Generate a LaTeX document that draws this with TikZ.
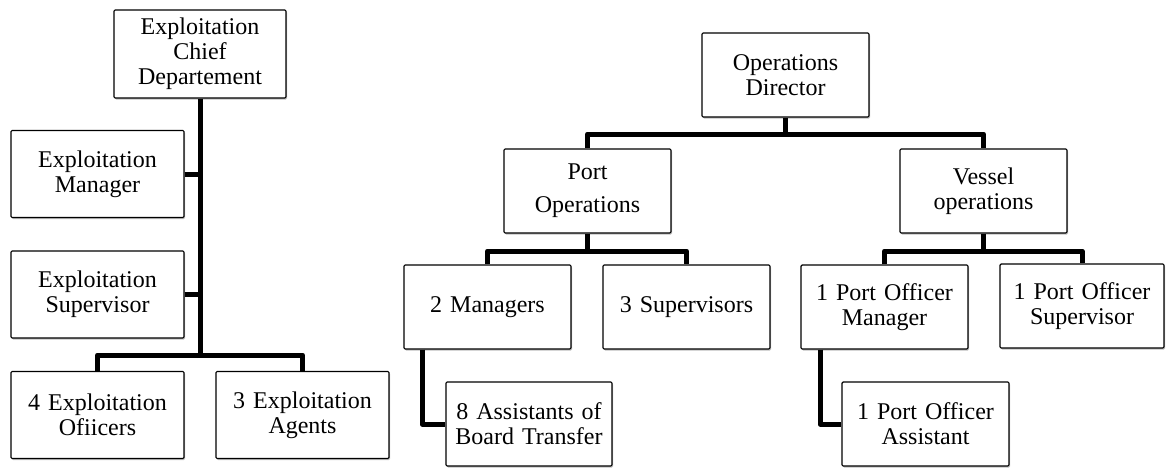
\documentclass[tikz,border=0pt]{standalone}
\usepackage{fontspec}
\setmainfont{Liberation Serif}
\usetikzlibrary{shadows}
\begin{document}
\begin{tikzpicture}[x=1pt,y=-1pt,
  box/.style={draw=black, line width=1.1pt, fill=white, rounded corners=1.2pt,
    align=center, inner sep=0pt, text width=#1,
    font=\fontsize{24}{25}\selectfont,
    drop shadow={shadow xshift=1pt, shadow yshift=-1.5pt, opacity=0.25, fill=black}},
  wbox/.style={box=170pt, minimum width=173pt, minimum height=87pt},
  nbox/.style={box=164pt, minimum width=167pt, minimum height=84pt},
  conn/.style={line width=5pt, line join=round}]
\useasboundingbox (0,0) rectangle (1166,467);

% Exploitation department
\node[wbox, minimum width=172pt, minimum height=88pt] (chief) at (200,54) {Exploitation\\Chief\\Departement};
\node[wbox] (emgr) at (97.5,174) {Exploitation\\Manager};
\node[wbox] (esup) at (97.5,294.5) {Exploitation\\Supervisor};
\node[wbox] (eoff) at (97.5,415) {4 Exploitation\\Ofiicers};
\node[wbox] (eagt) at (302.5,415) {3 Exploitation\\Agents};
\coordinate (lb) at (200,355);

\draw[conn] (chief.south) -- (lb);
\draw[conn] (emgr.east) -- (emgr.east -| chief.south);
\draw[conn] (esup.east) -- (esup.east -| chief.south);
\draw[conn] (eoff.north) |- (lb) -| (eagt.north);

% Operations department
\node[nbox] (dir) at (785.5,75) {Operations\\Director};
\node[nbox] (port) at (587.5,191) {Port\\[8pt]Operations};
\node[nbox] (ves) at (983.5,191) {Vessel\\operations};
\node[nbox] (mgr) at (487.5,307) {2 Managers};
\node[nbox] (sup) at (686.5,307) {3 Supervisors};
\node[nbox] (pom) at (884.5,307) {1 Port Officer\\Manager};
\node[nbox, minimum width=164pt] (pos) at (1082,306) {1 Port Officer\\Supervisor};
\node[nbox, minimum width=166pt] (asst) at (529,424) {8 Assistants of\\Board Transfer};
\node[nbox] (poa) at (925.5,424) {1 Port Officer\\Assistant};

\coordinate (rb) at (785.5,134);
\coordinate (pb) at (587.5,251);
\coordinate (vb) at (983.5,251);
\coordinate (e1) at (422,349);
\coordinate (e2) at (820,349);

\draw[conn] (dir.south) -- (rb);
\draw[conn] (port.north) |- (rb) -| (ves.north);
\draw[conn] (port.south) -- (pb);
\draw[conn] (mgr.north) |- (pb) -| (sup.north);
\draw[conn] (ves.south) -- (vb);
\draw[conn] (pom.north) |- (vb) -| (pos.north);
\draw[conn] (mgr.south -| e1) |- (asst.west);
\draw[conn] (pom.south -| e2) |- (poa.west);
\end{tikzpicture}
\end{document}
